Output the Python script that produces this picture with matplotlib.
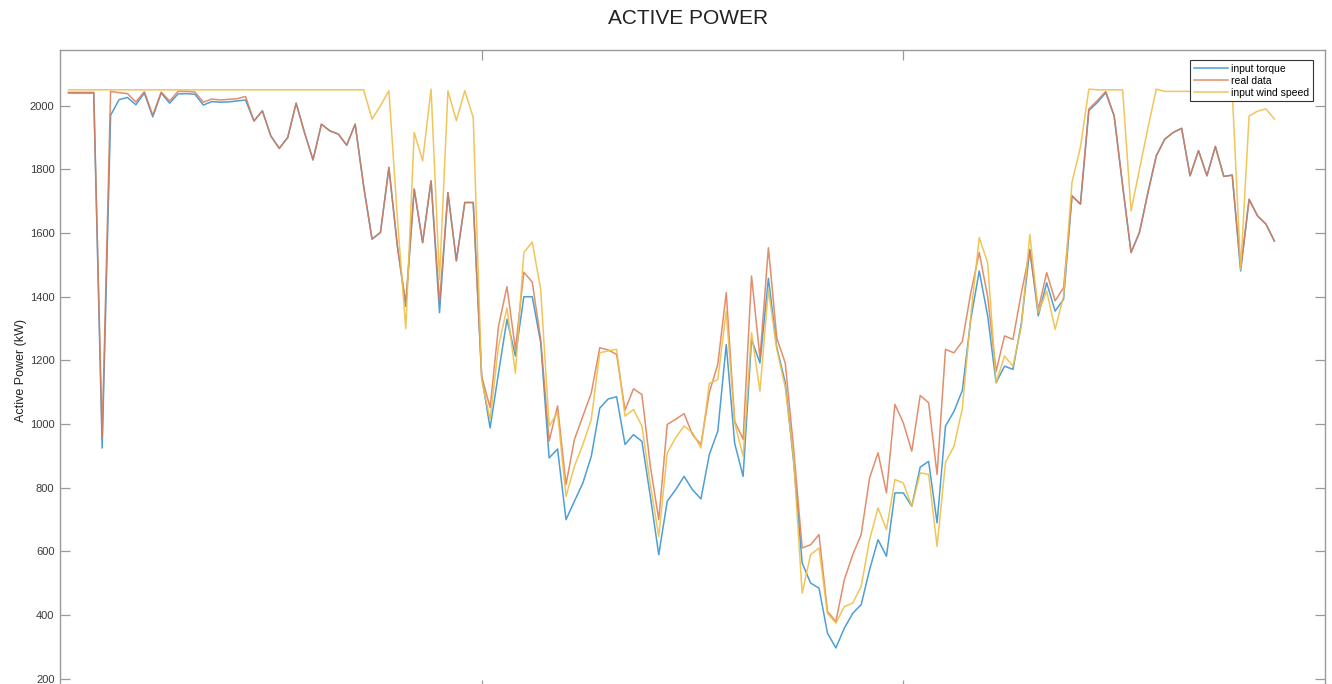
import matplotlib
matplotlib.use("Agg")
import matplotlib.pyplot as plt
import numpy as np

plt.rcParams['font.family'] = ['Liberation Sans', 'DejaVu Sans']

# sample index (time step)
sample = list(range(1, 145))

input_torque = [
    2040, 2040, 2040, 2040, 925, 1970, 2019, 2026, 2003, 2040,
    1965, 2040, 2008, 2037, 2038, 2036, 2002, 2013, 2011, 2012,
    2015, 2018, 1952, 1984, 1905, 1866, 1900, 2008, 1915, 1830,
    1942, 1921, 1911, 1876, 1942, 1748, 1581, 1602, 1806, 1560,
    1370, 1738, 1570, 1764, 1350, 1727, 1513, 1696, 1696, 1150,
    988, 1161, 1329, 1214, 1400, 1400, 1256, 894, 922, 700,
    758, 815, 899, 1050, 1079, 1086, 936, 967, 946, 773,
    590, 758, 794, 836, 794, 765, 905, 978, 1250, 940,
    836, 1266, 1192, 1458, 1240, 1130, 880, 564, 501, 485,
    344, 297, 359, 406, 433, 543, 637, 585, 784, 784,
    742, 865, 883, 690, 994, 1040, 1106, 1330, 1481, 1340,
    1130, 1182, 1172, 1318, 1549, 1340, 1444, 1355, 1392, 1717,
    1691, 1985, 2010, 2041, 1968, 1750, 1539, 1602, 1727, 1843,
    1895, 1916, 1929, 1780, 1859, 1780, 1872, 1778, 1782, 1481,
    1706, 1654, 1628, 1575,
]

real_data = [
    2042, 2042, 2042, 2042, 960, 2045, 2041, 2038, 2012, 2044,
    1970, 2043, 2015, 2045, 2045, 2043, 2011, 2021, 2018, 2020,
    2022, 2029, 1952, 1984, 1905, 1866, 1900, 2008, 1915, 1830,
    1942, 1921, 1911, 1876, 1942, 1748, 1581, 1602, 1806, 1560,
    1380, 1738, 1570, 1764, 1383, 1727, 1513, 1696, 1696, 1150,
    1052, 1308, 1432, 1235, 1477, 1446, 1266, 947, 1057, 810,
    952, 1025, 1098, 1240, 1233, 1219, 1044, 1111, 1093, 868,
    700, 999, 1015, 1033, 967, 936, 1100, 1188, 1413, 1009,
    952, 1465, 1208, 1554, 1270, 1192, 920, 611, 621, 653,
    412, 380, 511, 590, 653, 831, 910, 784, 1062, 1004,
    915, 1090, 1067, 842, 1235, 1224, 1260, 1413, 1539, 1400,
    1166, 1277, 1266, 1413, 1544, 1360, 1476, 1387, 1429, 1717,
    1691, 1990, 2016, 2045, 1968, 1750, 1539, 1602, 1727, 1843,
    1895, 1916, 1929, 1780, 1859, 1780, 1872, 1778, 1782, 1490,
    1706, 1654, 1628, 1575,
]

input_wind_speed = [
    2050, 2050, 2050, 2050, 2050, 2050, 2050, 2050, 2050, 2050,
    2050, 2050, 2050, 2050, 2050, 2050, 2050, 2050, 2050, 2050,
    2050, 2050, 2050, 2050, 2050, 2050, 2050, 2050, 2050, 2050,
    2050, 2050, 2050, 2050, 2050, 2050, 1958, 2000, 2047, 1650,
    1300, 1916, 1827, 2052, 1455, 2047, 1953, 2047, 1963, 1140,
    1015, 1245, 1365, 1160, 1539, 1572, 1423, 994, 1036, 773,
    868, 936, 1015, 1224, 1230, 1235, 1025, 1046, 994, 810,
    647, 909, 957, 994, 973, 925, 1128, 1140, 1355, 1004,
    899, 1287, 1104, 1423, 1235, 1115, 890, 469, 590, 611,
    406, 375, 427, 438, 490, 637, 737, 669, 826, 815,
    742, 847, 842, 616, 880, 930, 1050, 1340, 1586, 1507,
    1130, 1214, 1182, 1308, 1596, 1350, 1418, 1298, 1402, 1760,
    1870, 2052, 2050, 2050, 2050, 2050, 1670, 1800, 1930, 2052,
    2045, 2045, 2045, 2045, 2045, 2045, 2045, 2045, 2045, 1486,
    1968, 1983, 1990, 1958,
]

series_labels = ["input torque", "real data", "input wind speed"]
y_ticks = [200, 400, 600, 800, 1000, 1200, 1400, 1600, 1800, 2000]
x_ticks = [50, 100]

W, H = 1332, 684
fig = plt.figure(figsize=(W / 100, H / 100), dpi=100)
fig.patch.set_facecolor("white")

# axes placement in pixels (bottom edge lies just below the image)
left_px, right_px, top_px, bottom_px = 60, 1325, 50, 690
ax = fig.add_axes([left_px / W, (H - bottom_px) / H,
                   (right_px - left_px) / W, (bottom_px - top_px) / H])

c_blue = "#4d9fd6"
c_red = "#dd7a52"
c_yel = "#efbf48"

ax.plot(sample, input_torque, color=c_blue, lw=1.1, label=series_labels[0])
ax.plot(sample, real_data, color=c_red, lw=1.1, alpha=0.85, label=series_labels[1])
ax.plot(sample, input_wind_speed, color=c_yel, lw=1.1, alpha=0.9, label=series_labels[2])

ax.set_xlim(0, 150)
ax.set_ylim(165, 2175)
ax.set_xticks(x_ticks)
ax.set_xticklabels([])
ax.set_yticks(y_ticks)
ax.set_yticklabels([str(v) for v in y_ticks])

spine_col = "#9a9a9a"
for s in ax.spines.values():
    s.set_color(spine_col)
    s.set_linewidth(1.0)
ax.tick_params(axis="both", direction="in", length=7, width=0.9,
               color=spine_col, labelsize=8, labelcolor="#3a3a3a",
               top=True, right=True, pad=4)

ax.set_ylabel("Active Power (kW)", fontsize=9, color="#222222", labelpad=2)
fig.text(688 / W, 1 - 18 / H, "ACTIVE POWER", ha="center", va="center",
         fontsize=15, color="#222222")

leg = ax.legend(loc="upper right", fontsize=7.5, frameon=True, fancybox=False,
                edgecolor="#333333", framealpha=1, handlelength=3.3,
                handletextpad=0.3, borderpad=0.35, labelspacing=0.2,
                borderaxespad=0,
                bbox_to_anchor=(1 - 12 / (right_px - left_px), 1 - 10 / (bottom_px - top_px)))
leg.get_frame().set_linewidth(0.8)

fig.savefig("out.png", dpi=100, facecolor="white")
